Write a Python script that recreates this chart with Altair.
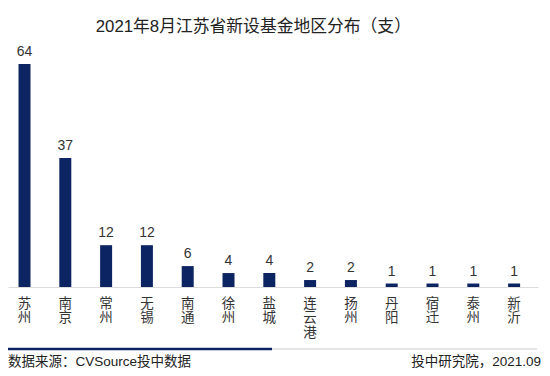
import altair as alt
import pandas as pd

regions = ["苏州", "南京", "常州", "无锡", "南通", "徐州", "盐城", "连云港", "扬州", "丹阳", "宿迁", "泰州", "新沂"]
counts = [64, 37, 12, 12, 6, 4, 4, 2, 2, 1, 1, 1, 1]

title_text = "2021年8月江苏省新设基金地区分布（支）"
source_text = "数据来源：CVSource投中数据"
credit_text = "投中研究院，2021.09"

FONT = "Liberation Sans, 'Noto Sans CJK SC', sans-serif"
NAVY = "#0c2461"
W, H = 530, 247

df = pd.DataFrame({"region": regions, "count": counts})

x = alt.X("region:N", sort=regions,
          scale=alt.Scale(paddingInner=0.706, paddingOuter=0.348, align=0.37),
          axis=alt.Axis(title=None, labelAngle=0, ticks=False, domain=True,
                        domainColor="#dcdcdc", domainWidth=1.2,
                        labelExpr="split(datum.label, '')",
                        labelFont=FONT, labelFontSize=13.5, labelLineHeight=14.5,
                        labelColor="#333333", labelPadding=9, labelBaseline="top"))
y = alt.Y("count:Q", scale=alt.Scale(domain=[0, 70.9], nice=False, zero=True), axis=None)

base = alt.Chart(df)
bars = base.mark_bar(color=NAVY).encode(x=x, y=y)
vals = base.mark_text(baseline="bottom", dy=-5, font=FONT, fontSize=14, color="#333333").encode(
    x=x, y=y, text="count:Q")

left_txt = alt.Chart(pd.DataFrame({"t": [source_text]})).mark_text(
    align="left", baseline="middle", font=FONT, fontSize=13.5, color="#222222").encode(
    text="t:N", x=alt.value(0), y=alt.value(321.5))
right_txt = alt.Chart(pd.DataFrame({"t": [credit_text]})).mark_text(
    align="right", baseline="middle", font=FONT, fontSize=13.5, color="#222222").encode(
    text="t:N", x=alt.value(533), y=alt.value(321.5))
dark_line = alt.Chart(pd.DataFrame({"a": [0]})).mark_rule(color=NAVY, strokeWidth=2.5).encode(
    x=alt.value(0), x2=alt.value(264), y=alt.value(309))
gray_line = alt.Chart(pd.DataFrame({"a": [0]})).mark_rule(color="#dddddd", strokeWidth=1.5).encode(
    x=alt.value(264), x2=alt.value(529), y=alt.value(309))

chart = alt.layer(bars, vals, dark_line, gray_line, left_txt, right_txt).properties(
    width=W, height=H,
    title=alt.TitleParams(title_text, anchor="start", dx=89, offset=4, font=FONT,
                          fontSize=16.8, fontWeight="normal", color="#222222"),
    autosize=alt.AutoSizeParams(type="none"),
    padding={"left": 0, "top": 32, "right": 4, "bottom": 81},
).configure_view(stroke=None)

chart.save("out.html", embed_options={"renderer": "svg", "actions": False})
